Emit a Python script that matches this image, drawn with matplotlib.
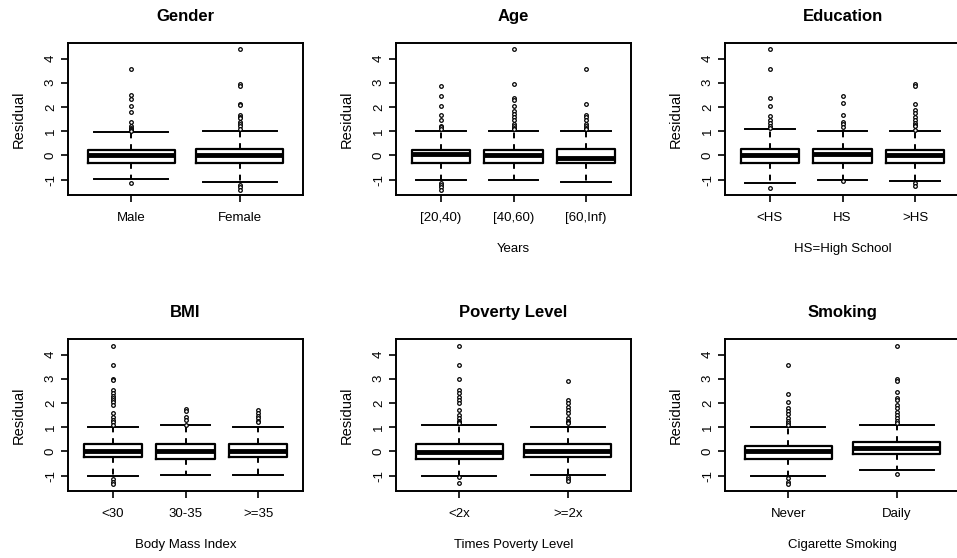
import matplotlib
matplotlib.use("Agg")
import matplotlib.pyplot as plt

plt.rcParams["font.family"] = ["Liberation Sans", "DejaVu Sans"]

# box statistics: (label, q1, med, q3, whislo, whishi, fliers)
gender = [
    ("Male", -0.29, 0.0, 0.23, -0.95, 0.95,
     [3.58, 2.48, 2.34, 2.05, 1.79, 1.4, 1.23, 1.15, 1.1, 1.05, 1.0, -1.12]),
    ("Female", -0.29, 0.0, 0.28, -1.10, 1.03,
     [4.41, 2.95, 2.85, 2.12, 2.08, 1.68, 1.6, 1.55, 1.4, 1.3, 1.2, 1.1, -1.21, -1.31, -1.42]),
]
age = [
    ("[20,40)", -0.29, 0.07, 0.23, -1.0, 0.99,
     [2.88, 2.47, 2.05, 1.65, 1.45, 1.23, 1.18, 1.1, -1.12, -1.21, -1.31, -1.42]),
    ("[40,60)", -0.29, 0.0, 0.23, -1.0, 0.99,
     [4.39, 2.96, 2.37, 2.27, 2.05, 1.85, 1.71, 1.58, 1.45, 1.3, 1.22, 1.15, 1.1]),
    ("[60,Inf)", -0.29, -0.10, 0.28, -1.10, 1.03,
     [3.58, 2.12, 1.68, 1.58, 1.45, 1.3, 1.2, 1.15, 1.1]),
]
education = [
    ("<HS", -0.29, 0.0, 0.28, -1.14, 1.09,
     [4.41, 3.58, 2.37, 2.05, 1.61, 1.47, 1.36, 1.2, 1.13, -1.35]),
    ("HS", -0.29, 0.06, 0.28, -1.0, 0.99,
     [2.47, 2.16, 1.68, 1.4, 1.3, 1.16, -1.05]),
    (">HS", -0.29, 0.0, 0.23, -1.07, 0.99,
     [2.96, 2.88, 2.12, 1.89, 1.75, 1.58, 1.45, 1.34, 1.27, 1.2, 1.06, -1.14, -1.25]),
]
bmi = [
    ("<30", -0.23, 0.03, 0.29, -1.03, 1.03,
     [4.36, 3.55, 3.0, 2.93, 2.53, 2.42, 2.28, 2.19, 2.12, 2.05, 1.92, 1.58, 1.44,
      1.3, 1.2, 1.1, -1.14, -1.25, -1.35]),
    ("30-35", -0.29, 0.03, 0.29, -0.98, 1.09,
     [1.75, 1.68, 1.44, 1.3, 1.1]),
    (">=35", -0.23, 0.03, 0.29, -0.98, 1.03,
     [1.71, 1.6, 1.47, 1.37, 1.26, 1.2]),
]
poverty = [
    ("<2x", -0.29, -0.03, 0.29, -1.03, 1.09,
     [4.36, 3.55, 3.0, 2.53, 2.42, 2.26, 2.12, 1.98, 1.71, 1.51, 1.37, 1.26, 1.2, 1.17,
      -1.07, -1.3]),
    (">=2x", -0.23, 0.03, 0.29, -0.98, 1.03,
     [2.9, 2.12, 1.98, 1.82, 1.71, 1.58, 1.37, 1.26, 1.2, 1.17, -1.07, -1.14, -1.21]),
]
smoking = [
    ("Never", -0.29, 0.0, 0.24, -1.03, 0.99,
     [3.55, 2.36, 2.05, 1.78, 1.68, 1.55, 1.37, 1.24, 1.17, 1.1, -1.11, -1.25, -1.35]),
    ("Daily", -0.12, 0.14, 0.38, -0.77, 1.09,
     [4.36, 3.0, 2.9, 2.46, 2.19, 2.12, 1.92, 1.78, 1.64, 1.51, 1.37, 1.27, 1.17, -0.91]),
]

panels = [
    ("Gender", "", gender),
    ("Age", "Years", age),
    ("Education", "HS=High School", education),
    ("BMI", "Body Mass Index", bmi),
    ("Poverty Level", "Times Poverty Level", poverty),
    ("Smoking", "Cigarette Smoking", smoking),
]

W, H = 957, 558
fig = plt.figure(figsize=(W / 100, H / 100), dpi=100)

lefts = [68, 396, 725]
tops = [43, 339]
pw, ph = 235, 152

for k, (title, xlab, groups) in enumerate(panels):
    r, c = divmod(k, 3)
    ax = fig.add_axes([lefts[c] / W, 1 - (tops[r] + ph) / H, pw / W, ph / H])
    stats = []
    for lab, q1, med, q3, lo, hi, fl in groups:
        stats.append(dict(label=lab, q1=q1, med=med, q3=q3, whislo=lo, whishi=hi, fliers=fl))
    n = len(stats)
    ax.bxp(stats, positions=range(1, n + 1), widths=0.8, capwidths=0.68,
           boxprops=dict(color="black", linewidth=1.6),
           medianprops=dict(color="black", linewidth=3.5, solid_capstyle="butt"),
           whiskerprops=dict(color="black", linewidth=1.4, linestyle=(0, (3, 3))),
           capprops=dict(color="black", linewidth=1.4),
           flierprops=dict(marker="o", markersize=2.6, markerfacecolor="white",
                           markeredgecolor="black", markeredgewidth=0.9))
    ax.set_xlim(0.5 - n * 0.04, n + 0.5 + n * 0.04)
    ax.set_ylim(-1.63, 4.64)
    ax.set_yticks([-1, 0, 1, 2, 3, 4])
    ax.set_yticklabels(["-1", "0", "1", "2", "3", "4"], rotation=90, va="center")
    ax.tick_params(direction="out", length=5, width=1.2, labelsize=9.5, pad=3)
    ax.tick_params(axis="x", pad=7)
    for s in ax.spines.values():
        s.set_linewidth(1.4)
    ax.set_title(title, fontsize=12, fontweight="bold", pad=16)
    ax.set_ylabel("Residual", fontsize=10.5, labelpad=14)
    if xlab:
        ax.set_xlabel(xlab, fontsize=9.5, labelpad=14)

fig.savefig("out.png", dpi=100)
